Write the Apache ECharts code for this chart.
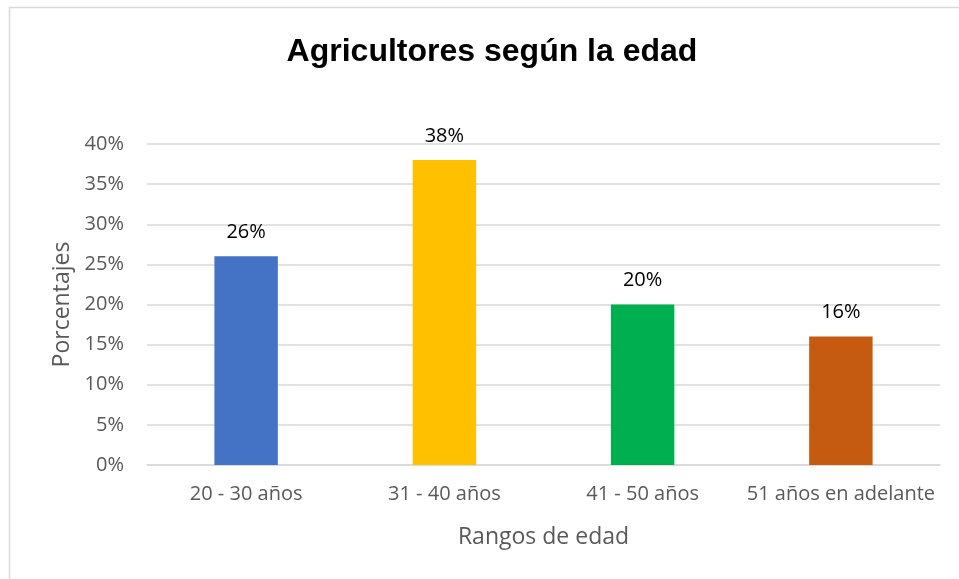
<!DOCTYPE html>
<html>
<head>
<meta charset="utf-8">
<script src="https://cdn.jsdelivr.net/npm/echarts@6/dist/echarts.min.js"></script>
<style>
  html, body { margin: 0; padding: 0; background: #fff; }
  #chart { width: 959px; height: 579px; }
</style>
</head>
<body>
<div id="chart"></div>
<script>
// Age ranges of farmers and their share (percent)
const categories = ['20 - 30 años', '31 - 40 años', '41 - 50 años', '51 años en adelante'];
const values = [26, 38, 20, 16];
const barColors = ['#4472C4', '#FFC000', '#00B050', '#C55A11'];

const chart = echarts.init(document.getElementById('chart'));
const labelFont = '"Open Sans", "Noto Sans", sans-serif';

chart.setOption({
  animation: false,
  backgroundColor: '#ffffff',
  graphic: [{
    type: 'rect',
    shape: { x: 9.5, y: 7.5, width: 980, height: 600 },
    style: { fill: 'none', stroke: '#d9d9d9', lineWidth: 1.5 },
    silent: true
  }],
  title: {
    text: 'Agricultores según la edad',
    left: 492,
    textAlign: 'center',
    top: 36,
    textStyle: {
      fontFamily: '"Liberation Sans", Arial, sans-serif',
      fontWeight: 'bold',
      fontSize: 32,
      color: '#000'
    },
    padding: 0
  },
  grid: { left: 147, right: 19, top: 144, bottom: 114, containLabel: false },
  xAxis: {
    type: 'category',
    data: categories,
    name: 'Rangos de edad',
    nameLocation: 'middle',
    nameGap: 61,
    nameTextStyle: { fontFamily: labelFont, fontSize: 23, color: '#595959' },
    axisLine: { lineStyle: { color: '#d9d9d9', width: 1.5 } },
    axisTick: { show: false },
    axisLabel: {
      interval: 0,
      hideOverlap: false,
      fontFamily: labelFont, fontSize: 20, color: '#595959', margin: 19
    }
  },
  yAxis: {
    type: 'value',
    min: 0,
    max: 40,
    interval: 5,
    name: 'Porcentajes',
    nameLocation: 'middle',
    nameGap: 70,
    nameRotate: 90,
    nameTextStyle: { fontFamily: labelFont, fontSize: 23, color: '#595959' },
    axisLine: { show: false },
    axisTick: { show: false },
    splitLine: { lineStyle: { color: '#d9d9d9', width: 1.5 } },
    axisLabel: {
      fontFamily: labelFont, fontSize: 20, color: '#595959', margin: 23,
      formatter: v => v + '%'
    }
  },
  series: [{
    type: 'bar',
    barWidth: '32%',
    data: values.map((v, i) => ({ value: v, itemStyle: { color: barColors[i] } })),
    label: {
      show: true,
      position: 'top',
      distance: 14,
      fontFamily: labelFont,
      fontSize: 20,
      color: '#000',
      formatter: p => p.value + '%'
    }
  }]
});
</script>
</body>
</html>
